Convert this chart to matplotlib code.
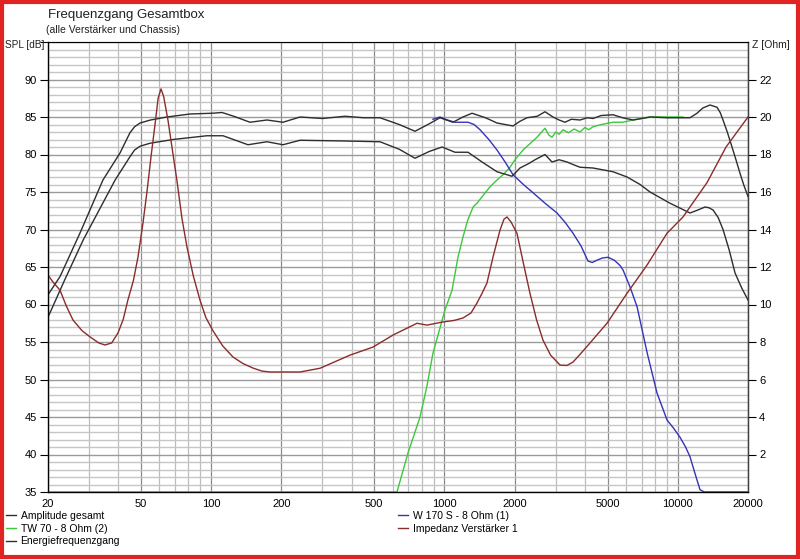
"""Frequenzgang Gesamtbox - SPL and impedance plot."""
import matplotlib
matplotlib.use("Agg")
from matplotlib import pyplot as pl
from matplotlib.lines import Line2D
from matplotlib.patches import Rectangle
from matplotlib.ticker import FixedLocator, FixedFormatter, NullFormatter

pl.rcParams["font.family"] = ["Liberation Sans", "DejaVu Sans"]
pl.rcParams["font.size"] = 8

# Amplitude gesamt (Hz, dB)
amp_f = [20, 22.5, 27.4, 34.4, 40.7, 44.9, 47, 49.6, 55, 64.7, 81.2, 100.9,
         111.4, 125, 146.8, 173.6, 203.3, 240.5, 300, 375, 450, 529.5, 640,
         748, 850, 957, 1088, 1200, 1313, 1500, 1680, 1968, 2100, 2258, 2500,
         2698, 2919, 3100, 3287, 3500, 3812, 4100, 4334, 4700, 5279, 5800,
         6435, 7605, 9000, 11284, 12090, 12800, 13747, 14731, 15200, 15630,
         16300, 17080, 17800, 18480, 19200, 20000]
amp_db = [61.3, 63.7, 69.5, 76.6, 80.2, 82.9, 83.7, 84.2, 84.6, 85.0, 85.4,
          85.5, 85.6, 85.1, 84.3, 84.6, 84.3, 85.0, 84.8, 85.1, 84.9, 84.9,
          84.0, 83.1, 84.0, 84.9, 84.3, 85.0, 85.5, 84.9, 84.2, 83.8, 84.4,
          84.9, 85.1, 85.7, 85.0, 84.6, 84.3, 84.7, 84.6, 84.9, 84.8, 85.2,
          85.3, 84.9, 84.6, 85.0, 84.9, 84.9, 85.5, 86.2, 86.6, 86.3, 85.6,
          84.6, 83.0, 81.0, 79.2, 77.5, 75.9, 74.4]

# Energiefrequenzgang (Hz, dB)
energy_f = [20, 23.6, 28.3, 38.8, 44.9, 47, 49.6, 54.7, 68.7, 96.0, 112.5,
            143.9, 173.6, 203.3, 240.5, 375, 529.5, 640, 748, 860, 977, 1110,
            1262, 1450, 1680, 1948, 2108, 2300, 2445, 2698, 2891, 3100, 3352,
            3600, 3812, 4334, 5279, 6064, 6896, 7605, 9267, 11284, 12200, 13085,
            13600, 14165, 14900, 15630, 16600, 17600, 18800, 20000]
energy_db = [58.3, 63.3, 68.6, 76.6, 79.7, 80.6, 81.1, 81.5, 82.0, 82.5, 82.5,
             81.3, 81.7, 81.3, 81.9, 81.8, 81.7, 80.7, 79.5, 80.4, 81.0, 80.3,
             80.3, 79.0, 77.7, 77.1, 78.2, 78.8, 79.3, 80.0, 79.0, 79.3, 79.0,
             78.6, 78.3, 78.2, 77.7, 77.0, 76.0, 75.0, 73.5, 72.2, 72.6, 73.0,
             72.9, 72.6, 71.6, 70.0, 67.3, 64.2, 62.2, 60.6]

# W 170 S - 8 Ohm (1)
woofer_f = [893, 957, 1030, 1110, 1262, 1340, 1421, 1550, 1680, 1820, 1968,
            2180, 2397, 2700, 3038, 3300, 3557, 3850, 4125, 4300, 4500, 4750,
            5025, 5350, 5657, 5828, 6250, 6693, 7400, 8149, 8994, 9600, 10224,
            10800, 11284, 11900, 12459, 13000, 20000]
woofer_db = [84.7, 85.0, 84.6, 84.3, 84.3, 84.0, 83.3, 82.0, 80.6, 79.0, 77.3,
             76.0, 74.9, 73.5, 72.2, 70.9, 69.5, 67.8, 65.8, 65.6, 65.9, 66.2,
             66.3, 65.9, 65.2, 64.6, 62.3, 59.7, 53.5, 48.2, 44.6, 43.5, 42.3,
             41.0, 39.7, 37.3, 35.3, 35.0, 35.0]

# TW 70 - 8 Ohm (2)
tweeter_f = [20, 626, 698, 786, 840, 893, 950, 1006, 1078, 1143, 1201, 1260,
             1327, 1379, 1470, 1568, 1680, 1783, 1900, 2006, 2172, 2300, 2492,
             2698, 2800, 2891, 3000, 3100, 3224, 3400, 3600, 3812, 4000, 4150,
             4334, 4700, 5279, 5800, 6435, 7605, 10534]
tweeter_db = [35.0, 35.0, 40.2, 45.0, 49.0, 53.5, 56.5, 59.3, 61.9, 66.3, 69.0,
              71.3, 73.0, 73.5, 74.6, 75.7, 76.6, 77.3, 78.2, 79.3, 80.6, 81.3,
              82.3, 83.5, 82.6, 82.3, 83.0, 82.7, 83.3, 82.9, 83.4, 83.0, 83.6,
              83.3, 83.7, 84.0, 84.3, 84.3, 84.6, 85.0, 85.0]

# Impedanz Verstaerker 1 (Hz, Ohm)
imp_f = [20, 21, 22.5, 24, 25.6, 28, 30.3, 33, 35.1, 37.5, 39.9, 42, 44.0,
         46.5, 48.6, 51, 53.1, 55.3, 57.5, 59.3, 61.0, 62.6, 65.4, 68.7, 71.4,
         75, 78.8, 84, 89.6, 95, 101.9, 112, 124.1, 137, 151.2, 165, 178.8,
         240.5, 293, 393.9, 494.1, 602, 763, 842, 986, 1100, 1201, 1300, 1379,
         1450, 1522, 1620, 1731, 1800, 1854, 1930, 2046, 2180, 2326, 2480,
         2645, 2850, 3130, 3350, 3557, 3850, 4206, 4975, 6064, 7383, 8994,
         10534, 13346, 16106, 20000]
imp_ohm = [11.57, 11.2, 10.77, 9.9, 9.17, 8.6, 8.27, 7.95, 7.84, 7.95, 8.48,
           9.2, 10.24, 11.3, 12.53, 14.3, 16.0, 17.9, 19.6, 21.0, 21.5, 21.1,
           19.8, 18.0, 16.6, 14.6, 13.07, 11.5, 10.24, 9.3, 8.6, 7.8, 7.2, 6.85,
           6.61, 6.45, 6.4, 6.4, 6.6, 7.3, 7.73, 8.37, 9.0, 8.9, 9.07, 9.15,
           9.28, 9.55, 10.08, 10.6, 11.15, 12.6, 13.97, 14.55, 14.67, 14.4,
           13.8, 12.2, 10.6, 9.2, 8.1, 7.3, 6.77, 6.75, 6.93, 7.4, 7.95, 9.0,
           10.6, 12.1, 13.8, 14.67, 16.5, 18.4, 20.0]

x_ticks = [20, 50, 100, 200, 500, 1000, 2000, 5000, 10000, 20000]
spl_ticks = [35, 40, 45, 50, 55, 60, 65, 70, 75, 80, 85, 90]
z_ticks = [2, 4, 6, 8, 10, 12, 14, 16, 18, 20, 22]

col_amp = "#2e2e2e"
col_tw = "#3cc83c"
col_w = "#3434b8"
col_imp = "#8a2c2c"

fig = pl.figure(figsize=(8.0, 5.59), dpi=100)
ax = fig.add_axes([48 / 800, 67 / 559, 700 / 800, 450 / 559])

# Grid: log x with minor lines, 1 dB horizontal lines
minor_x = [d * k for d in (10, 100, 1000, 10000) for k in range(2, 10)
           if 20 <= d * k <= 20000 and d * k not in x_ticks]
ax.set_xscale("log")
ax.set_xlim(20, 20000)
ax.set_ylim(35, 95)
ax.xaxis.set_major_locator(FixedLocator(x_ticks))
ax.xaxis.set_minor_locator(FixedLocator(minor_x))
ax.xaxis.set_major_formatter(FixedFormatter([str(t) for t in x_ticks]))
ax.xaxis.set_minor_formatter(NullFormatter())
ax.yaxis.set_major_locator(FixedLocator(spl_ticks + [95]))
ax.yaxis.set_minor_locator(FixedLocator([v for v in range(36, 95) if v % 5]))
ax.set_yticklabels([str(t) for t in spl_ticks] + [""])
ax.grid(which="major", axis="x", color="#8c8c8c", lw=0.9)
ax.grid(which="minor", axis="x", color="#bcbcbc", lw=0.9)
ax.grid(which="major", axis="y", color="#9a9a9a", lw=1.0)
ax.grid(which="minor", axis="y", color="#c6c6c6", lw=1.0)
ax.set_axisbelow(True)
ax.tick_params(axis="x", which="both", length=0, pad=5, labelsize=8)
ax.tick_params(axis="y", which="major", length=6, width=0.8, pad=2, labelsize=8)
ax.tick_params(axis="y", which="minor", length=0)
for side in ["left", "bottom", "right"]:
    ax.spines[side].set_color("#404040")
    ax.spines[side].set_linewidth(1.0)
ax.spines["top"].set_color("#9a9a9a")

ax.plot(tweeter_f, tweeter_db, color=col_tw, lw=1.0)
ax.plot(woofer_f, woofer_db, color=col_w, lw=1.0)
ax.plot(energy_f, energy_db, color=col_amp, lw=1.0)
ax.plot(amp_f, amp_db, color=col_amp, lw=1.0)

# Impedance on the right axis
ax2 = ax.twinx()
ax2.set_ylim(0, 24)
ax2.set_yticks(z_ticks)
ax2.tick_params(axis="y", length=6, width=0.8, pad=2, labelsize=8)
ax2.spines["right"].set_color("#404040")
ax2.plot(imp_f, imp_ohm, color=col_imp, lw=1.0)

# Titles and axis captions
fig.text(48 / 800, 1 - 15 / 559, "Frequenzgang Gesamtbox", fontsize=9.5,
         va="center", ha="left", color="#202020")
fig.text(46 / 800, 1 - 30 / 559, "(alle Verstärker und Chassis)", fontsize=7.5,
         va="center", ha="left", color="#202020")
fig.text(44 / 800, 1 - 45 / 559, "SPL [dB]", fontsize=7.2, va="center",
         ha="right", color="#202020")
fig.text(752 / 800, 1 - 45 / 559, "Z [Ohm]", fontsize=7.5, va="center",
         ha="left", color="#202020")

# Legends below the plot
handles = [Line2D([], [], color=col_amp, lw=1.0),
           Line2D([], [], color=col_tw, lw=1.0),
           Line2D([], [], color=col_amp, lw=1.0),
           Line2D([], [], color=col_w, lw=1.0),
           Line2D([], [], color=col_imp, lw=1.0)]
labels = ["Amplitude gesamt", "TW 70 - 8 Ohm (2)", "Energiefrequenzgang",
          "W 170 S - 8 Ohm (1)", "Impedanz Verstärker 1"]
common = dict(loc="upper left", frameon=False, fontsize=7.5, handlelength=1.0,
              handletextpad=0.4, labelspacing=0.25, borderpad=0.0,
              borderaxespad=0.0)
fig.legend(handles[:3], labels[:3], bbox_to_anchor=(6 / 800, 1 - 511 / 559),
           **common)
fig.legend(handles[3:], labels[3:], bbox_to_anchor=(398 / 800, 1 - 511 / 559),
           **common)

# Red window frame
fig.patches.append(Rectangle((0.002, 0.003), 0.995, 0.994, transform=fig.transFigure,
                             fill=False, edgecolor="#e02424", lw=3.0))

fig.savefig("out.png", dpi=100)
pl.close(fig)
